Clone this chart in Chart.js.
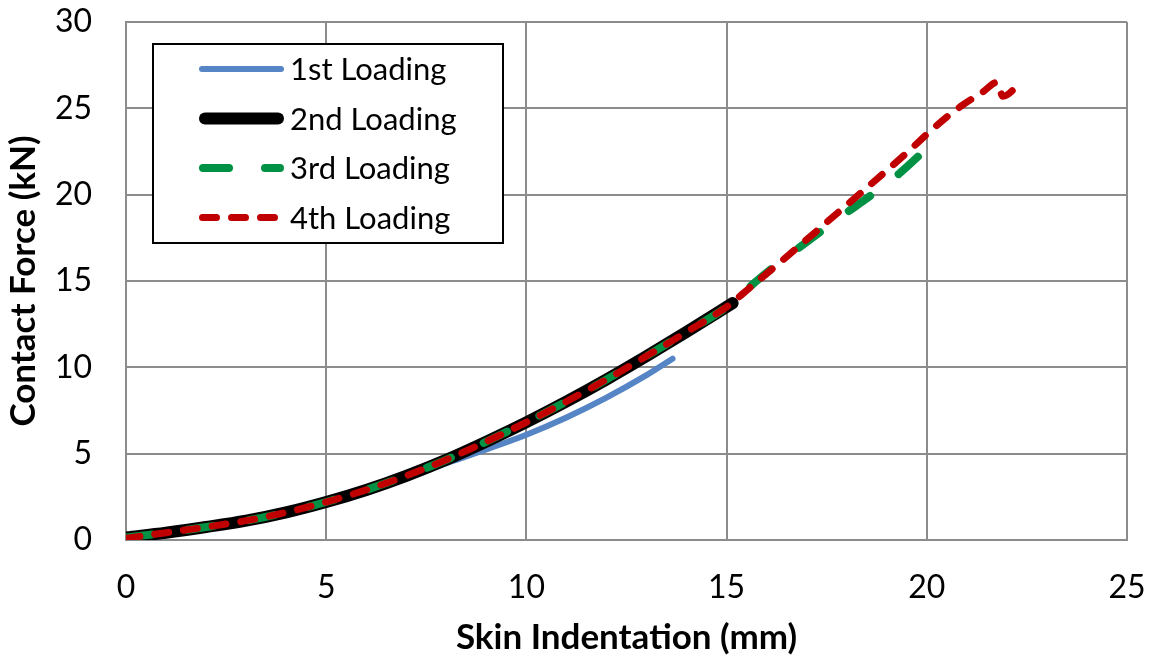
<!DOCTYPE html>
<html>
<head>
<meta charset="utf-8">
<script src="https://cdn.jsdelivr.net/npm/chart.js@4.4.1/dist/chart.umd.min.js"></script>
<style>
  body { margin: 0; background: #fff; }
  #wrap { width: 1151px; height: 662px; position: relative; }
</style>
</head>
<body>
<div id="wrap"><canvas id="forceChart"></canvas></div>
<script>
// Skin indentation (mm) vs contact force (kN), four loading runs
const seriesNames = ['1st Loading', '2nd Loading', '3rd Loading', '4th Loading'];

const x1 = [0, 1, 2, 3, 4, 5, 6, 7, 8, 9, 10, 11, 12, 13, 13.65];
const y1 = [0.15, 0.42, 0.75, 1.12, 1.6, 2.2, 2.88, 3.64, 4.45, 5.25, 6.1, 7.1, 8.25, 9.55, 10.5];

const x2 = [0, 1, 2, 3, 4, 5, 6, 7, 8, 9, 10, 11, 12, 13, 14, 15, 15.15];
const y2 = [0.15, 0.42, 0.75, 1.12, 1.6, 2.2, 2.9, 3.72, 4.65, 5.7, 6.82, 8.02, 9.3, 10.65, 12.05, 13.5, 13.72];

const x3 = [0, 1, 2, 3, 4, 5, 6, 7, 8, 9, 10, 11, 12, 13, 14, 15, 15.8, 16.5, 17.2, 17.9, 18.6, 19.3, 20.1];
const y3 = [0.15, 0.42, 0.75, 1.12, 1.6, 2.2, 2.9, 3.72, 4.65, 5.7, 6.82, 8.02, 9.3, 10.65, 12.05, 13.5, 15.1, 16.4, 17.6, 18.8, 19.95, 21.2, 22.9];

const x4 = [0, 1, 2, 3, 4, 5, 6, 7, 8, 9, 10, 11, 12, 13, 14, 15, 15.6, 16.7, 17.5, 18.1, 18.6, 19.1, 19.7, 20.0, 20.5, 20.9, 21.4, 21.75, 21.9, 22.35];
const y4 = [0.1, 0.42, 0.75, 1.12, 1.6, 2.2, 2.9, 3.72, 4.65, 5.7, 6.82, 8.02, 9.3, 10.65, 12.05, 13.5, 14.65, 16.8, 18.4, 19.6, 20.6, 21.6, 22.85, 23.5, 24.5, 25.2, 25.95, 26.5, 25.7, 26.5];

const xTicks = [0, 5, 10, 15, 20, 25];
const yTicks = [0, 5, 10, 15, 20, 25, 30];

const gridColor = '#8c8c8c';
const fontName = 'Lato, "Open Sans", sans-serif';

function pts(xs, ys) {
    return xs.map((x, i) => ({ x: x, y: ys[i] }));
}

// keep the plot area fixed: no extra room for the end tick labels
function fixPadding(scale) {
    scale.paddingTop = 0;
    scale.paddingBottom = 0;
    scale.paddingLeft = 0;
    scale.paddingRight = 0;
}

// legend drawn inside the plot, framed by a black box
const boxLegend = {
    id: 'boxLegend',
    afterDraw(chart) {
        const ctx = chart.ctx;
        const left = 153, top = 44, w = 350, h = 199;
        ctx.save();
        ctx.fillStyle = '#fff';
        ctx.fillRect(left, top, w, h);
        ctx.strokeStyle = '#000';
        ctx.lineWidth = 2;
        ctx.strokeRect(left, top, w, h);
        chart.data.datasets.forEach((ds, i) => {
            const y = 69 + i * 49.5;
            ctx.beginPath();
            ctx.strokeStyle = ds.borderColor;
            ctx.lineWidth = ds.borderWidth;
            ctx.lineCap = 'round';
            ctx.setLineDash(ds.borderDash || []);
            ctx.moveTo(199 + ds.borderWidth / 2, y);
            ctx.lineTo(284 - ds.borderWidth / 2, y);
            ctx.stroke();
            ctx.setLineDash([]);
            ctx.fillStyle = '#000';
            ctx.font = '31px ' + fontName;
            ctx.textBaseline = 'middle';
            ctx.fillText(ds.label, 290, y + 1);
        });
        ctx.restore();
    }
};

const ctxForce = document.getElementById('forceChart').getContext('2d');
new Chart(ctxForce, {
    type: 'line',
    data: {
        datasets: [
            {
                label: seriesNames[0],
                data: pts(x1, y1),
                borderColor: '#5585c5',
                borderWidth: 6,
                order: 4
            },
            {
                label: seriesNames[1],
                data: pts(x2, y2),
                borderColor: '#000000',
                borderWidth: 12,
                order: 3
            },
            {
                label: seriesNames[2],
                data: pts(x3, y3),
                borderColor: '#009144',
                borderWidth: 8,
                borderDash: [26, 36],
                order: 2
            },
            {
                label: seriesNames[3],
                data: pts(x4, y4),
                borderColor: '#c00000',
                borderWidth: 7,
                borderDash: [14, 15],
                order: 1
            }
        ]
    },
    options: {
        responsive: true,
        maintainAspectRatio: false,
        animation: false,
        layout: { padding: { top: 22, right: 24, left: 0, bottom: 0 } },
        elements: {
            point: { radius: 0 },
            line: {
                cubicInterpolationMode: 'monotone',
                borderCapStyle: 'round',
                borderJoinStyle: 'round',
                fill: false
            }
        },
        plugins: {
            legend: { display: false },
            tooltip: { enabled: false }
        },
        scales: {
            x: {
                type: 'linear',
                min: 0,
                max: 25,
                afterFit(scale) { scale.height = 122; fixPadding(scale); },
                afterBuildTicks(scale) { scale.ticks = xTicks.map(v => ({ value: v })); },
                grid: { color: gridColor, lineWidth: 2, drawTicks: false },
                border: { color: gridColor, width: 2 },
                ticks: {
                    color: '#000',
                    padding: 28,
                    maxRotation: 0,
                    font: { family: fontName, size: 32 }
                },
                title: {
                    display: true,
                    text: 'Skin Indentation (mm)',
                    color: '#000',
                    padding: { top: 0, bottom: 3 },
                    font: { family: fontName, size: 35, weight: 'bold' }
                }
            },
            y: {
                type: 'linear',
                min: 0,
                max: 30,
                afterFit(scale) { scale.width = 126; fixPadding(scale); },
                afterBuildTicks(scale) { scale.ticks = yTicks.map(v => ({ value: v })); },
                grid: { color: gridColor, lineWidth: 2, drawTicks: false },
                border: { color: gridColor, width: 2 },
                ticks: {
                    color: '#000',
                    padding: 34,
                    font: { family: fontName, size: 32 }
                },
                title: {
                    display: true,
                    text: 'Contact Force (kN)',
                    color: '#000',
                    padding: { top: 3, bottom: 0 },
                    font: { family: fontName, size: 35, weight: 'bold' }
                }
            }
        }
    },
    plugins: [boxLegend]
});
</script>
</body>
</html>
